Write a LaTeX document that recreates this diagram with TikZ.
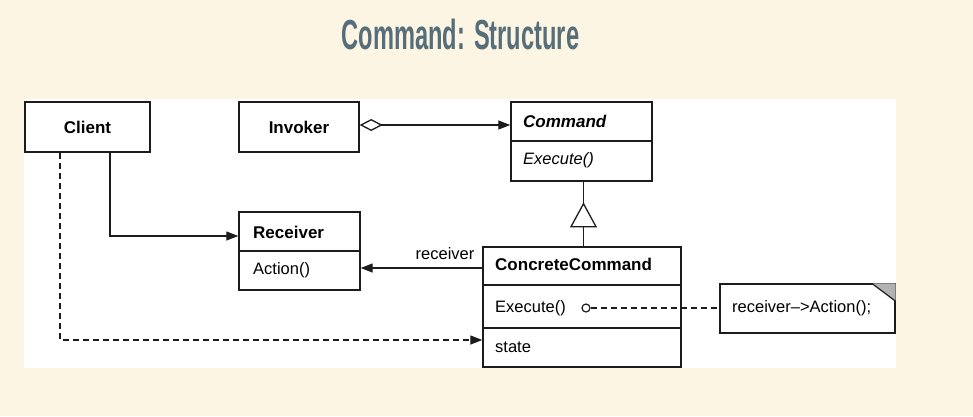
\documentclass[tikz,border=0pt]{standalone}
\usepackage{fontspec}
\setmainfont{Liberation Sans}
\usetikzlibrary{arrows.meta,calc}
\definecolor{bgcream}{HTML}{FDF5E3}
\definecolor{titlecol}{HTML}{566E79}
\definecolor{ink}{HTML}{1C1C1C}
\begin{document}
\begin{tikzpicture}[x=1pt,y=-1pt,
  box/.style={draw=ink, line width=1.4pt, inner sep=0pt, fill=white},
  boldlbl/.style={font=\fontsize{17}{20}\selectfont\bfseries, inner sep=0pt},
  plainlbl/.style={font=\fontsize{16.5}{20}\selectfont, inner sep=0pt},
  conn/.style={draw=ink, line width=1.3pt},
  head/.style={-{Triangle[length=12pt,width=9pt]}},
  dashpat/.style={dash pattern=on 6pt off 4pt},
  divider/.style={draw=ink, line width=1.3pt}]
\useasboundingbox[fill=bgcream] (0,0) rectangle (973,416);
\fill[white] (24,99) rectangle (896,368);
% title
\node[inner sep=0pt, anchor=base, text=titlecol, font=\fontsize{42}{44}\selectfont\bfseries] (title) at (460.5,49) {\scalebox{0.563}[1]{Command: Structure}};
% boxes
\node[box, boldlbl, minimum width=125pt, minimum height=50pt] (client) at (87.5,127) {Client};
\node[box, boldlbl, minimum width=120pt, minimum height=50pt] (invoker) at (299,127) {Invoker};
\node[box, minimum width=141pt, minimum height=79pt] (cmd) at (581.5,141.5) {};
\draw[divider] (cmd.west |- 0,141) -- (cmd.east |- 0,141);
\node[boldlbl, anchor=west, font=\fontsize{17}{20}\selectfont\bfseries\itshape] (cmdname) at (523,121) {Command};
\node[plainlbl, anchor=west, font=\fontsize{16.5}{20}\selectfont\itshape] (cmdexec) at (523,160) {Execute()};
\node[box, minimum width=121pt, minimum height=78pt] (receiver) at (299.5,251) {};
\draw[divider] (receiver.west |- 0,251) -- (receiver.east |- 0,251);
\node[boldlbl, anchor=west] (recname) at (253,232) {Receiver};
\node[plainlbl, anchor=west] (recact) at (253,270) {Action()};
\node[box, minimum width=198pt, minimum height=120pt] (ccmd) at (582,307) {};
\draw[divider] (ccmd.west |- 0,285) -- (ccmd.east |- 0,285);
\draw[divider] (ccmd.west |- 0,328) -- (ccmd.east |- 0,328);
\node[boldlbl, anchor=west] (ccname) at (495,264) {ConcreteCommand};
\node[plainlbl, anchor=west] (ccexec) at (495,308) {Execute()};
\node[plainlbl, anchor=west] (ccstate) at (495,347) {state};
\node[box, minimum width=175pt, minimum height=49pt] (note) at (807.5,308.5) {};
\fill[gray!60] ([xshift=-24pt]note.north east) -- (note.north east) -- ([yshift=-18pt]note.north east) -- cycle;
\draw[ink, line width=1.2pt] ([xshift=-24pt]note.north east) -- ([yshift=-18pt]note.north east);
\node[plainlbl, anchor=west] (notetext) at (732,308) {receiver–>Action();};
% connectors
\draw[conn, {Diamond[open,length=23pt,width=12pt]}-{Triangle[length=12pt,width=9pt]}] ([yshift=2pt]invoker.east) -- ([yshift=16.5pt]cmd.west);
\draw[conn, head] ([xshift=22.5pt]client.south) |- ([yshift=15pt]receiver.west);
\draw[conn, head, dashpat] ([xshift=-27.5pt]client.south) |- ([yshift=-33pt]ccmd.west);
\draw[conn, head] ([yshift=39pt]ccmd.west) -- ([yshift=-17pt]receiver.east);
\node[plainlbl] (reclabel) at (445,254) {receiver};
\draw[conn, line width=1.8pt] ([xshift=1.5pt]ccmd.north) -- ([xshift=2pt]cmd.south);
\draw[conn, fill=white] ([xshift=2pt,yshift=-22pt]cmd.south) -- ++(12.5,23) -- ++(-25,0) -- cycle;
\node[draw=ink, circle, line width=1.2pt, minimum size=8pt, inner sep=0pt, fill=white] (excirc) at (586,308) {};
\draw[conn, dashpat] (excirc.east) -- (note.west |- excirc.east);
\end{tikzpicture}
\end{document}
